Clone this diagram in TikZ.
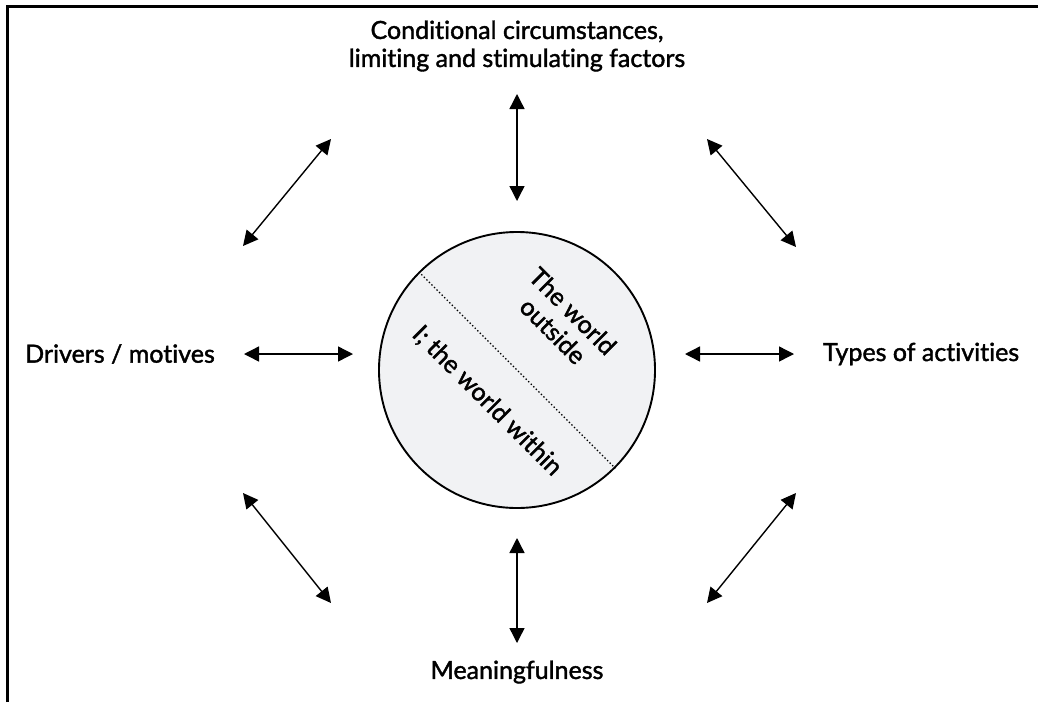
\documentclass[tikz,border=0pt]{standalone}
\usepackage{fontspec}
\setmainfont{Lato}[FakeBold=1.6, RawFeature={-liga;-calt;-dlig}]
\usepackage{tikz}
\usetikzlibrary{positioning}
\usetikzlibrary{arrows.meta}
\definecolor{discfill}{HTML}{F1F2F4}
\tikzset{
  link/.style={line width=1.4pt, {Triangle[length=15pt,width=15pt]}-{Triangle[length=15pt,width=15pt]}},
  lbl/.style={font=\fontsize{25}{28}\selectfont, align=center, inner sep=0pt},
}

\begin{document}
\begin{tikzpicture}[x=1pt,y=1pt]

\useasboundingbox (0,0) rectangle (1038,-702);

% Outer frame (top and left only)
\draw[line width=3pt] (7,-702) -- (7,-6) -- (1038,-6);

% ---------- Centre disc ----------
\node[circle, draw, line width=1.9pt, fill=discfill, minimum size=276pt, inner sep=0pt] (disc) at (517,-370) {};
\draw[line width=1.3pt, dash pattern=on 1.4pt off 2.2pt] (disc.135) -- (disc.-45);

\node[lbl, rotate=-45] (outside) at (563,-321) {The world\\outside};
\node[lbl, rotate=-45] (within) at (487,-401) {I; the world within};

% ---------- Labels ----------
\node[lbl] (cond) at (517,-46) {Conditional circumstances,\\limiting and stimulating factors};
\node[lbl] (drivers) at (120,-354) {Drivers / motives};
\node[lbl] (types) at (921,-354) {Types of activities};
\node[lbl] (meaning) at (517,-672) {Meaningfulness};

% ---------- Arrow ends ----------
\coordinate (n1) at (517,-94);   \coordinate (n2) at (517,-201);
\coordinate (s1) at (517,-538);  \coordinate (s2) at (517,-643);
\coordinate (w1) at (244,-354);  \coordinate (w2) at (353,-354);
\coordinate (e1) at (685,-354);  \coordinate (e2) at (794,-354);
\coordinate (nw1) at (243,-246); \coordinate (nw2) at (331,-139);
\coordinate (ne1) at (707,-139); \coordinate (ne2) at (796,-247);
\coordinate (sw1) at (243,-493); \coordinate (sw2) at (331,-603);
\coordinate (se1) at (707,-603); \coordinate (se2) at (796,-493);

% ---------- Arrows ----------
\foreach \a/\b in {n1/n2, s1/s2, w1/w2, e1/e2, nw1/nw2, ne1/ne2, sw1/sw2, se1/se2}{
  \draw[link] (\a) -- (\b);
}

\end{tikzpicture}
\end{document}
